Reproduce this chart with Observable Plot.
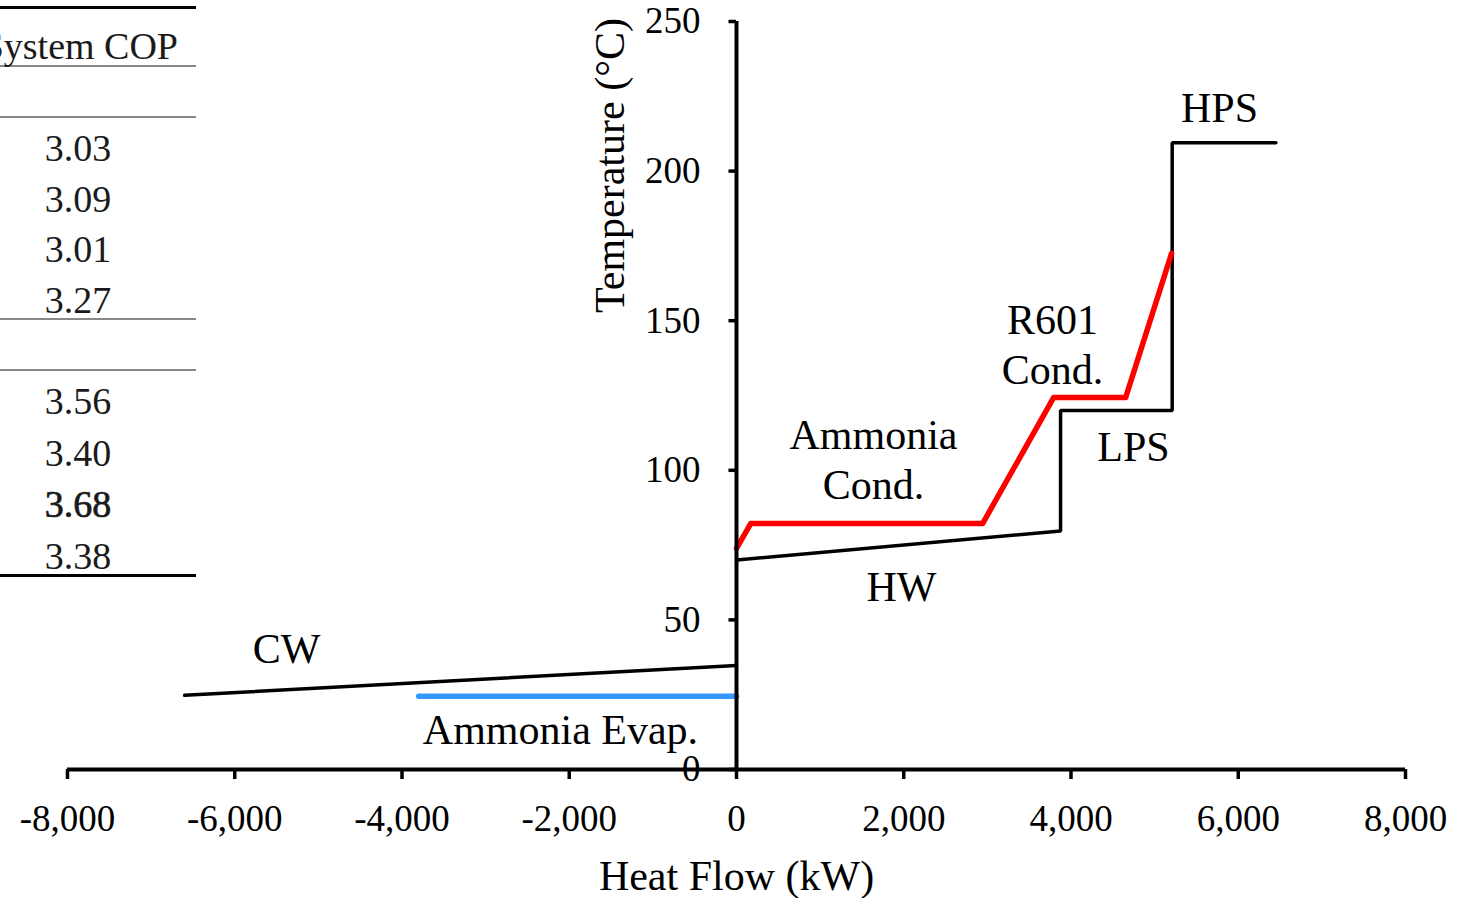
<!DOCTYPE html>
<html><head><meta charset="utf-8">
<script src="https://cdn.jsdelivr.net/npm/d3@7"></script>
<script src="https://cdn.jsdelivr.net/npm/@observablehq/plot@0.6"></script>
<style>
html,body{margin:0;padding:0;background:#fff;overflow:hidden;}
#wrap{position:relative;width:1458px;height:898px;overflow:hidden;}
#wrap svg{position:absolute;left:0;top:0;}
#table{position:absolute;left:0;top:0;width:196px;height:600px;font-family:"Liberation Serif","Times New Roman",serif;color:#1a1a1a;}
.rule{position:absolute;left:0;width:196px;}
.cell{position:absolute;left:0;width:156px;text-align:center;font-size:38px;line-height:38px;}
.head{position:absolute;left:-120px;width:298px;text-align:right;font-size:38px;line-height:38px;}
</style></head><body><div id="wrap"><div id="table"></div></div>
<script>
// ---- data ----
const copHeader = "System COP";
const copValues = ["3.03", "3.09", "3.01", "3.27", "3.56", "3.40", "3.68", "3.38"];
const copBold = [false, false, false, false, false, false, true, false];

const cwCurve = [[-6600, 24.8], [0, 34.8]];
const hotUtilityCurve = [[0, 70], [3875, 79.7], [3875, 120], [5210, 120], [5210, 209.5], [6450, 209.5]];
const condenserCurve = [[0, 73.9], [170, 82.2], [2943, 82.2], [3792, 124.3], [4653, 124.3], [5203, 172.5]];
const evaporatorCurve = [[-3800, 24.5], [0, 24.5]];

const labelText = ["HPS", "R601", "Cond.", "Ammonia", "Cond.", "LPS", "HW", "CW", "Ammonia Evap."];
const labelX = [5776, 3779, 3779, 1638, 1638, 4747, 1973, -5381, -2105];
const labelY = [220.9, 150.1, 133.4, 111.6, 94.9, 107.6, 60.8, 40.1, 13.0];

const xTicks = [-8000, -6000, -4000, -2000, 0, 2000, 4000, 6000, 8000];
const yTicks = [0, 50, 100, 150, 200, 250];
const xTitle = "Heat Flow (kW)";
const yTitle = "Temperature (°C)";

// ---- table (partial, cropped at left) ----
const table = document.getElementById("table");
const rules = [
  {y: 6, h: 3, c: "#000"}, {y: 65, h: 2, c: "#888"}, {y: 116, h: 2, c: "#888"},
  {y: 318, h: 2, c: "#888"}, {y: 369, h: 2, c: "#888"}, {y: 574, h: 3, c: "#000"}
];
rules.forEach(r => {
  const d = document.createElement("div");
  d.className = "rule";
  d.style.top = r.y + "px"; d.style.height = r.h + "px"; d.style.background = r.c;
  table.appendChild(d);
});
const head = document.createElement("div");
head.className = "head"; head.textContent = copHeader; head.style.top = (46 - 19) + "px";
table.appendChild(head);
copValues.forEach((v, i) => {
  const cy = i < 4 ? 148 + i * 50.7 : 401 + (i - 4) * 51.5;
  const d = document.createElement("div");
  d.className = "cell"; d.textContent = v; d.style.top = (cy - 19) + "px";
  if (copBold[i]) d.style.webkitTextStroke = "0.7px #1a1a1a";
  table.appendChild(d);
});

// ---- chart ----
const labels = labelText.map((t, i) => ({text: t, x: labelX[i], y: labelY[i]}));
const px = d => d[0], py = d => d[1];
const fmt = d => d.toLocaleString("en-US");

const chart = Plot.plot({
  width: 1458, height: 898,
  marginLeft: 67, marginRight: 53, marginTop: 21, marginBottom: 129,
  x: {domain: [-8000, 8000]},
  y: {domain: [0, 250], axis: null},
  style: {fontFamily: "Liberation Serif, Times New Roman, serif", background: "transparent", color: "#000"},
  marks: [
    Plot.line(cwCurve, {x: px, y: py, stroke: "#000", strokeWidth: 3.5}),
    Plot.line(hotUtilityCurve, {x: px, y: py, stroke: "#000", strokeWidth: 3.5, strokeLinejoin: "miter"}),
    Plot.line(evaporatorCurve, {x: px, y: py, stroke: "#3399ff", strokeWidth: 5.5}),
    Plot.line(condenserCurve, {x: px, y: py, stroke: "#ff0000", strokeWidth: 5.5}),
    Plot.ruleY([0], {x1: -8000, x2: 8000, stroke: "#000", strokeWidth: 4}),
    Plot.ruleX([0], {y1: 0, y2: 250, stroke: "#000", strokeWidth: 4}),
    Plot.ruleY(yTicks, {y: d => d, x1: -90, x2: 0, stroke: "#000", strokeWidth: 3.5}),
    Plot.text(yTicks, {x: 0, y: d => d, text: d => String(d), dx: -36, textAnchor: "end", fontSize: 37, fill: "#000"}),
    Plot.axisX(xTicks, {tickSize: 10, strokeWidth: 3.5, tickPadding: 25, fontSize: 37, tickFormat: fmt, label: null, stroke: "#000", fill: "#000"}),
    Plot.text([xTitle], {frameAnchor: "bottom", dy: 107, lineAnchor: "middle", textAnchor: "middle", fontSize: 42, fill: "#000"}),
    Plot.text([yTitle], {frameAnchor: "top-left", dx: 543, dy: 144, rotate: -90, lineAnchor: "middle", textAnchor: "middle", fontSize: 42, fill: "#000"}),
    Plot.text(labels, {x: "x", y: "y", text: "text", fontSize: 42, fill: "#000"})
  ]
});
document.getElementById("wrap").appendChild(chart);
</script>
</body></html>
